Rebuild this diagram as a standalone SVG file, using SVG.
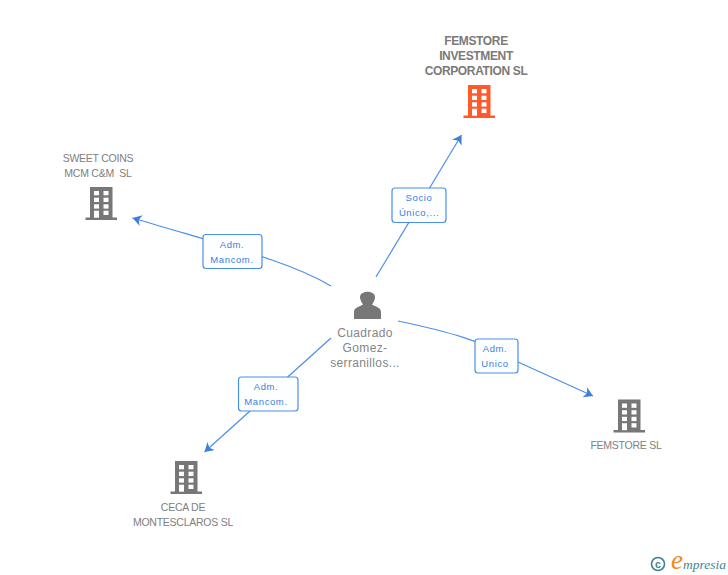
<svg xmlns="http://www.w3.org/2000/svg" width="728" height="575" viewBox="0 0 728 575">
<style>
text{font-family:"Liberation Sans",Arial,sans-serif}
.n{font-size:10.5px;fill:#808080;text-anchor:middle;letter-spacing:-.25px;white-space:pre}
.b{font-size:12px;fill:#7a7a7a;font-weight:bold;text-anchor:middle;letter-spacing:-.36px}
.p{font-size:12px;fill:#858585;text-anchor:middle;letter-spacing:.35px}
.l{font-size:9.5px;fill:#3b7fe0;text-anchor:middle;letter-spacing:.6px}
.box{fill:#fdfeff;stroke:#4a8fe8;stroke-width:1.2}
.c{fill:none;stroke:#4a8fe8;stroke-width:1.2}
.w{fill:#fff}
</style>
<defs>
<g id="bld">
<rect x="0" y="0" width="22.5" height="31"/>
<rect x="-4.5" y="30.5" width="31.5" height="2.5"/>
<rect class="w" x="4" y="4" width="5" height="4.3"/>
<rect class="w" x="13.5" y="4" width="5" height="4.3"/>
<rect class="w" x="4" y="10.7" width="5" height="4.3"/>
<rect class="w" x="13.5" y="10.7" width="5" height="4.3"/>
<rect class="w" x="4" y="17.3" width="5" height="4.3"/>
<rect class="w" x="13.5" y="17.3" width="5" height="4.3"/>
<rect class="w" x="4" y="23.7" width="5" height="7"/>
<rect class="w" x="13.5" y="23.7" width="5" height="4.3"/>
</g>
<marker id="a" markerUnits="userSpaceOnUse" markerWidth="12" markerHeight="12" refX="9" refY="5.500" orient="auto">
<path d="M0 0L9 5.500L0 11L2.500 5.500Z" fill="#3b7fe0"/>
</marker>
</defs>
<g id="connectors">
<path class="c" d="M376 277L461.500 135" marker-end="url(#a)"/>
<path class="c" d="M331 286C290 262 240 250 132.500 218" marker-end="url(#a)"/>
<path class="c" d="M398 321C450 332 480 340 518 362L593 396" marker-end="url(#a)"/>
<path class="c" d="M331 338L204.500 452" marker-end="url(#a)"/>
</g>
<g id="node-femstore-investment">
<text class="b" x="476" y="45">FEMSTORE</text>
<text class="b" x="476" y="60">INVESTMENT</text>
<text class="b" x="476" y="75">CORPORATION SL</text>
<use href="#bld" x="468" y="85" fill="#ff5a2c"/>
</g>
<g id="node-sweet-coins">
<text class="n" x="98" y="162">SWEET COINS</text>
<text class="n" x="98" y="177" xml:space="preserve">MCM C&amp;M  SL</text>
<use href="#bld" x="90" y="187" fill="#777"/>
</g>
<g id="node-femstore-sl">
<use href="#bld" x="618" y="399.500" fill="#777"/>
<text class="n" x="626" y="449">FEMSTORE SL</text>
</g>
<g id="node-ceca">
<use href="#bld" x="175" y="461" fill="#777"/>
<text class="n" x="183" y="511">CECA DE</text>
<text class="n" x="183" y="526">MONTESCLAROS SL</text>
</g>
<g id="node-person">
<path fill="#777" d="M354 319V312C354 308 358 307 363 304.500C361 302 360 299 360 297C360 294 363 291.700 367.700 291.700C372 291.700 375 294 375 297C375 299 374 302 372 304.500C377 307 381 308 381 312V319Z"/>
<text class="p" x="365" y="337">Cuadrado</text>
<text class="p" x="365" y="352">Gomez-</text>
<text class="p" x="365" y="367">serranillos...</text>
</g>
<g id="label-socio">
<rect class="box" x="392" y="188" width="54" height="34.500" rx="3"/>
<text class="l" x="419" y="201">Socio</text>
<text class="l" x="419" y="216">Único,...</text>
</g>
<g id="label-sweet">
<rect class="box" x="203" y="234.500" width="59" height="34" rx="3"/>
<text class="l" x="232" y="248">Adm.</text>
<text class="l" x="232" y="263">Mancom.</text>
</g>
<g id="label-femstore">
<rect class="box" x="475" y="339" width="43" height="34" rx="3"/>
<text class="l" x="495" y="352">Adm.</text>
<text class="l" x="495" y="367">Unico</text>
</g>
<g id="label-ceca">
<rect class="box" x="238.500" y="377" width="59.500" height="34" rx="3"/>
<text class="l" x="266" y="390">Adm.</text>
<text class="l" x="266" y="405">Mancom.</text>
</g>
<g id="logo">
<circle cx="658" cy="564" r="6.500" fill="none" stroke="#3f7f95" stroke-width="1.600"/>
<text x="658" y="567.500" font-size="10.500" font-weight="bold" fill="#3f7f95" text-anchor="middle">c</text>
<text x="671" y="569" font-size="27" font-style="italic" fill="#f08a1c" style="font-family:'Liberation Serif',serif">e</text>
<text x="683" y="569" font-size="13.500" font-style="italic" fill="#3f8595" style="font-family:'Liberation Serif',serif">mpresia</text>
</g>
</svg>
